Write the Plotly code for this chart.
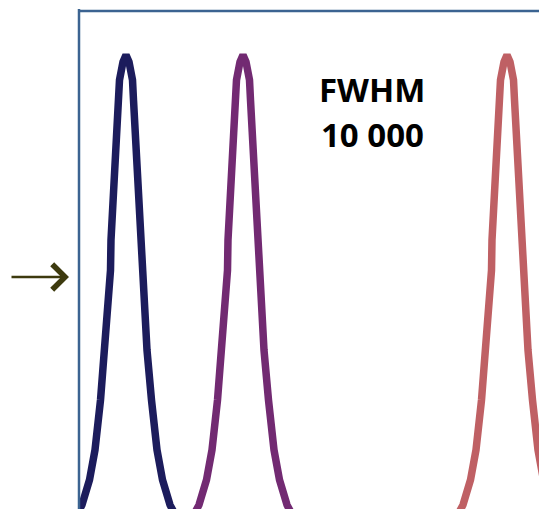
import plotly.graph_objects as go

# Peak profile (offset from peak centre, relative intensity %)
profile_offset = [-52, -44, -36.5, -31, -25.5, -21, -18, -15.5, -15, -12.5, -10, -7.5, -6.5, -3, 0,
                  3, 6.5, 7.5, 10, 12.5, 15, 15.5, 18, 21, 25.5, 31, 36.5, 44, 52]
profile_intensity = [-2.4, 0.9, 6.4, 13.0, 24.0, 35.0, 43.8, 52.6, 59.3, 68.1, 79.1, 90.1, 94.5, 98.5, 100,
                     98.5, 94.5, 90.1, 79.1, 68.1, 59.3, 52.6, 43.8, 35.0, 24.0, 13.0, 6.4, 0.9, -2.4]

peak_names = ["Peak 1", "Peak 2", "Peak 3"]
peak_centers = [47, 164, 428]
peak_colors = ["#1c1c5c", "#722a72", "#bf6064"]

label_lines = ["FWHM", "10 000"]

fig = go.Figure()
for name, c, col in zip(peak_names, peak_centers, peak_colors):
    fig.add_trace(go.Scatter(
        x=[c + o for o in profile_offset],
        y=profile_intensity,
        mode="lines",
        name=name,
        line=dict(color=col, width=7.5),
        showlegend=False,
        hoverinfo="skip",
    ))

fig.update_layout(
    width=539, height=509,
    margin=dict(l=79, r=0, t=11, b=0),
    paper_bgcolor="white", plot_bgcolor="white",
    xaxis=dict(range=[0, 460], visible=False, fixedrange=True),
    yaxis=dict(range=[0, 109.7], visible=False, fixedrange=True),
    showlegend=False,
)

# frame: left and top edges
fig.add_shape(type="line", xref="paper", yref="paper", x0=0, x1=0, y0=0, y1=1.004,
              line=dict(color="#3b6391", width=2.5))
fig.add_shape(type="line", xref="paper", yref="paper", x0=0, x1=1, y0=1, y1=1,
              line=dict(color="#3b6391", width=2.5))

# text
fig.add_annotation(x=372 - 79, y=(509 - 89) / 454 * 100, xref="x", yref="y", text="<b>%s</b>" % label_lines[0],
                   showarrow=False, font=dict(family="Open Sans", size=33, color="black"))
fig.add_annotation(x=372 - 79, y=(509 - 134) / 454 * 100, xref="x", yref="y", text="<b>%s</b>" % label_lines[1],
                   showarrow=False, font=dict(family="Open Sans", size=33, color="black"))

# arrow on the left
fig.add_annotation(x=(69 - 79) / 460, y=(509 - 277) / 498, xref="paper", yref="paper",
                   ax=-59, ay=0, text="", showarrow=True, arrowhead=4, arrowsize=1.9,
                   arrowwidth=2.6, arrowcolor="#3d3a0e")

fig.write_html("out.html")
